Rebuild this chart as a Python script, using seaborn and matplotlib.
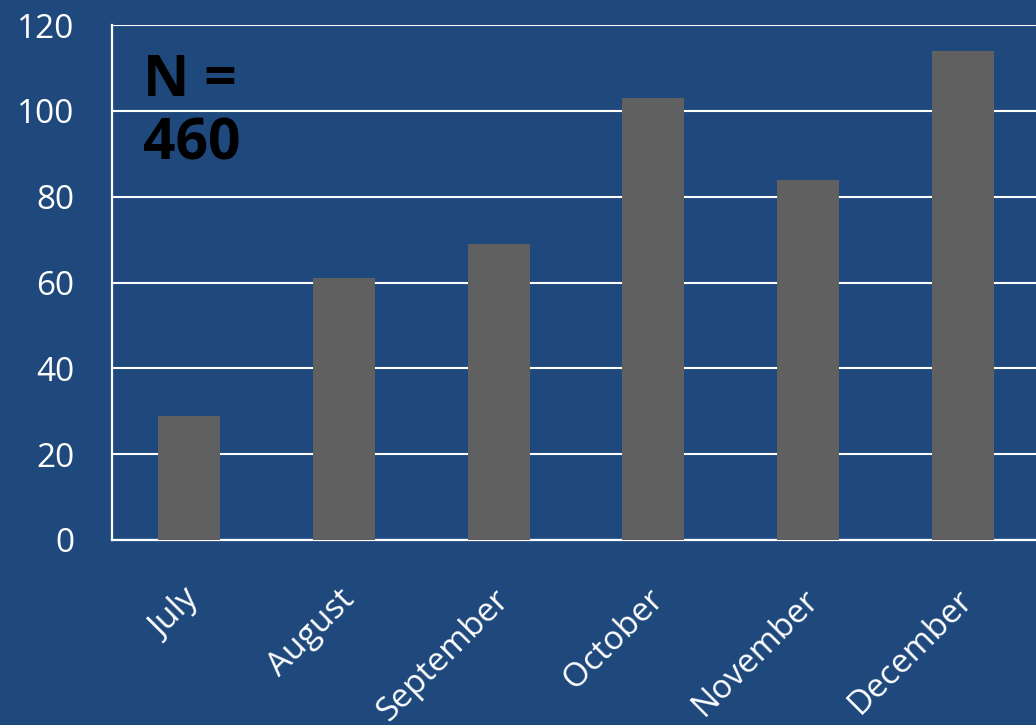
import pandas as pd
import matplotlib
matplotlib.use("Agg")
import matplotlib.pyplot as plt
import matplotlib.transforms as mtransforms
import seaborn as sns

months = ["July", "August", "September", "October", "November", "December"]
counts = [29, 61, 69, 103, 84, 114]
total_label = "N =\n460"

bg = "#1F497D"
bar_color = "#606060"

sns.set_style("white")
plt.rcParams['font.family'] = ['Open Sans', 'DejaVu Sans']

df = pd.DataFrame({"Month": months, "Count": counts})

fig = plt.figure(figsize=(10.36, 7.25), dpi=100, facecolor=bg)
ax = fig.add_axes([112 / 1036, 185 / 725, 928 / 1036, 515 / 725])
ax.set_facecolor(bg)

sns.barplot(data=df, x="Month", y="Count", color=bar_color, saturation=1,
            width=0.4, errorbar=None, ax=ax, zorder=3, linewidth=0)

ax.set_xlim(-0.5, 5.5)
ax.set_ylim(0, 120)
ax.set_yticks(range(0, 121, 20))
ax.yaxis.grid(True, color="white", linewidth=1.5, zorder=0)
ax.set_axisbelow(True)
ax.set_xlabel("")
ax.set_ylabel("")

for side in ["top", "right"]:
    ax.spines[side].set_visible(False)
for side in ["left", "bottom"]:
    ax.spines[side].set_color("white")
    ax.spines[side].set_linewidth(1.6)

ax.tick_params(axis="y", length=0, pad=27, labelsize=24, labelcolor="white")
ax.tick_params(axis="x", length=0, pad=31, labelsize=24, labelcolor="white")
shift = mtransforms.ScaledTranslation(-6 / 100, 0, fig.dpi_scale_trans)
for lbl in ax.get_xticklabels():
    lbl.set_rotation(45)
    lbl.set_ha("right")
    lbl.set_va("top")
    lbl.set_rotation_mode("anchor")
    lbl.set_transform(lbl.get_transform() + shift)

ax.text(31 / 928, 1 - 27 / 515, total_label, transform=ax.transAxes,
        fontsize=41, fontweight="bold", color="black", va="top", ha="left",
        linespacing=1.12)

fig.savefig("out.png", dpi=100, facecolor=bg)
